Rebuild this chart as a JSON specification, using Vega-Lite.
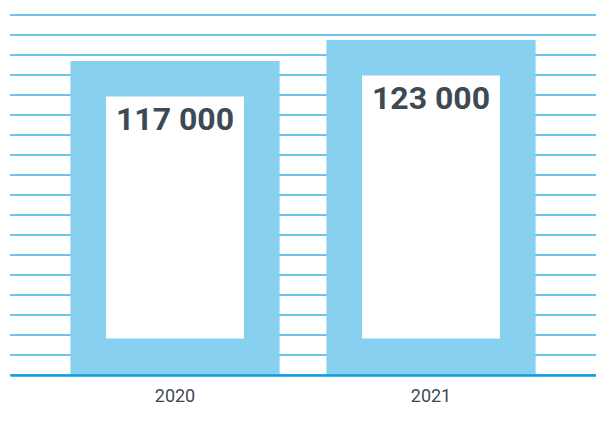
{
  "$schema": "https://vega.github.io/schema/vega-lite/v6.json",
  "width": 586,
  "height": 360,
  "autosize": {"type": "none"},
  "padding": {"left": 10, "top": 15, "right": 0, "bottom": 48},
  "background": "#ffffff",
  "config": {"view": {"stroke": null}},
  "datasets": {
    "bars": [
      {"year": "2020", "value": 117000, "label": "117 000", "base": 27286},
      {"year": "2021", "value": 123000, "label": "123 000", "base": 27286}
    ],
    "grid": [
      {"g": 0}, {"g": 1}, {"g": 2}, {"g": 3}, {"g": 4}, {"g": 5}, {"g": 6},
      {"g": 7}, {"g": 8}, {"g": 9}, {"g": 10}, {"g": 11}, {"g": 12}, {"g": 13},
      {"g": 14}, {"g": 15}, {"g": 16}, {"g": 17}, {"g": 18}
    ]
  },
  "layer": [
    {
      "data": {"name": "grid"},
      "mark": {"type": "rule", "color": "#3DB2E6", "strokeWidth": 1.5},
      "encoding": {
        "y": {"field": "g", "type": "quantitative", "scale": {"domain": [0, 18], "nice": false}, "axis": null}
      }
    },
    {
      "data": {"name": "bars"},
      "layer": [
        {
          "mark": {"type": "bar", "color": "#87D0F0"},
          "encoding": {
            "x": {
              "field": "year", "type": "nominal",
              "scale": {"paddingInner": 0.183, "paddingOuter": 0.236},
              "axis": {
                "title": null, "labelAngle": 0, "ticks": false,
                "domainColor": "#0A9FE2", "domainWidth": 2.7,
                "labelFont": "Roboto", "labelFontSize": 18, "labelColor": "#3D4A55",
                "labelPadding": 12, "zindex": 1
              }
            },
            "y": {"field": "value", "type": "quantitative", "scale": {"domain": [27286, 130143], "zero": false, "nice": false}, "axis": null},
            "y2": {"field": "base"}
          }
        },
        {
          "mark": {"type": "bar", "color": "#ffffff", "width": {"band": 0.66}, "yOffset": 35.5, "y2Offset": -36.5},
          "encoding": {
            "x": {"field": "year", "type": "nominal"},
            "y": {"field": "value", "type": "quantitative"},
            "y2": {"field": "base"}
          }
        },
        {
          "mark": {"type": "text", "font": "Roboto", "fontWeight": "bold", "fontSize": 32, "color": "#3D4A54", "baseline": "alphabetic", "align": "center", "dy": 69},
          "encoding": {
            "x": {"field": "year", "type": "nominal"},
            "y": {"field": "value", "type": "quantitative"},
            "text": {"field": "label"}
          }
        }
      ]
    }
  ],
  "resolve": {"scale": {"y": "independent"}}
}
